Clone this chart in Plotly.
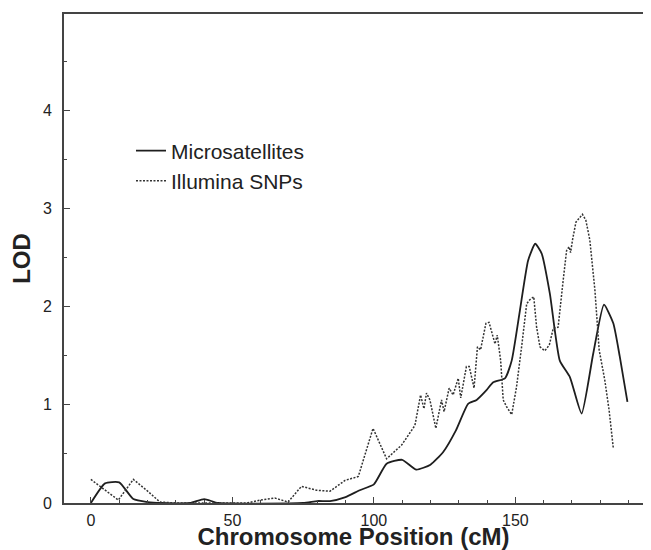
import plotly.graph_objects as go

# ---- data ----
ms_pos = [0, 5, 10, 15, 20, 25, 35, 40, 45, 75, 80, 84.5, 90, 95, 100, 104.5, 110, 115, 120,
          124.5, 129, 133.3, 136.3, 139.8, 142.2, 146.3, 148.7, 151.6, 154.5, 157, 159.3,
          162.2, 165.7, 169.3, 173.4, 177.5, 181.3, 184.6, 186.9, 189.6]
ms_lod = [0, 0.20, 0.21, 0.04, 0.01, 0, 0, 0.04, 0, 0, 0.02, 0.02, 0.06, 0.13, 0.19, 0.40, 0.44,
          0.34, 0.39, 0.52, 0.74, 1.01, 1.05, 1.15, 1.23, 1.27, 1.45, 1.96, 2.47, 2.64, 2.54,
          2.13, 1.45, 1.28, 0.91, 1.52, 2.02, 1.83, 1.49, 1.03]

snp_pos = [0, 9.7, 15, 19.7, 24.4, 30, 55, 60, 65, 69.7, 74.4, 79.7, 84.5, 89.8, 94.5, 99.7,
           104.5, 109.8, 114.5, 116.5, 117.7, 118.6, 119.8, 121.9, 123.9, 124.8, 126.6, 128,
           129.8, 130.7, 132.7, 133.7, 135.4, 136.6, 137.7, 139.6, 140.7, 142.8, 143.6, 144.8,
           145.7, 146.9, 148.7, 150.4, 152.2, 154, 155.1, 156.5, 157.5, 158.7, 160.4, 162,
           163.4, 165.1, 166.9, 168.1, 169, 169.5, 170.2, 171.4, 173.7, 174.9, 176.3, 178.1,
           179.6, 181.6, 183.1, 184.6]
snp_lod = [0.24, 0.03, 0.24, 0.13, 0.01, 0, 0, 0.03, 0.05, 0.01, 0.17, 0.13, 0.12, 0.23, 0.27,
           0.76, 0.45, 0.59, 0.79, 1.10, 0.96, 1.12, 1.05, 0.76, 1.05, 0.93, 1.17, 1.10, 1.27,
           1.07, 1.39, 1.39, 1.17, 1.59, 1.56, 1.83, 1.84, 1.62, 1.71, 1.45, 1.05, 0.98, 0.90,
           1.18, 1.59, 2.03, 2.07, 2.10, 1.79, 1.59, 1.55, 1.61, 1.78, 1.79, 2.27, 2.57, 2.61,
           2.55, 2.68, 2.86, 2.94, 2.88, 2.68, 2.17, 1.56, 1.25, 0.95, 0.56]

x_tickvals = [0, 50, 100, 150]
y_tickvals = [0, 1, 2, 3, 4]

FONT = "Liberation Sans, Arial, sans-serif"
INK = "#222222"
AX = "#444444"

fig = go.Figure()
fig.add_trace(go.Scatter(x=ms_pos, y=ms_lod, mode="lines", name="Microsatellites",
                         line=dict(color="#1e1e1e", width=1.8, shape="spline", smoothing=0.5)))
fig.add_trace(go.Scatter(x=snp_pos, y=snp_lod, mode="lines", name="Illumina SNPs",
                         line=dict(color="#333333", width=1.5, dash="2px,1.5px")))

fig.update_layout(
    width=635, height=542,
    margin=dict(l=56, r=0, t=6, b=47, autoexpand=False),
    paper_bgcolor="white", plot_bgcolor="white",
    font=dict(family=FONT, color=INK),
    showlegend=True,
    legend=dict(x=0.1157, y=0.762, xanchor="left", yanchor="top",
                bgcolor="rgba(0,0,0,0)", font=dict(size=21, family=FONT, color=INK),
                itemwidth=30, tracegroupgap=0),
    xaxis=dict(range=[-9.5, 195.1], tickvals=x_tickvals, ticks="inside", ticklen=6,
               tickwidth=1.3, tickcolor=AX, showline=True, linecolor=AX, linewidth=1.6,
               mirror=True, showgrid=False, zeroline=False, automargin=True,
               ticklabelstandoff=2,
               minor=dict(dtick=10, tick0=0, ticks="inside", ticklen=3, tickcolor=AX,
                          showgrid=False),
               tickfont=dict(size=16, family=FONT, color=INK),
               title=dict(text="Chromosome Position (cM)", standoff=2,
                          font=dict(size=24, family=FONT, color=INK, weight=700))),
    yaxis=dict(range=[0, 4.98], tickvals=y_tickvals, ticks="inside", ticklen=6,
               tickwidth=1.3, tickcolor=AX, showline=True, linecolor=AX, linewidth=1.6,
               mirror=False, showgrid=False, zeroline=False, automargin=False,
               ticklabelstandoff=7,
               minor=dict(dtick=0.5, tick0=0, ticks="inside", ticklen=3, tickcolor=AX,
                          showgrid=False),
               tickfont=dict(size=16, family=FONT, color=INK),
               title=dict(text="LOD",
                          font=dict(size=24, family=FONT, color=INK, weight=700))),
    yaxis2=dict(overlaying="y", side="right", matches="y", showline=False,
                tickvals=y_tickvals, ticks="inside", ticklen=6, tickwidth=1.3, tickcolor=AX,
                showticklabels=False, showgrid=False, zeroline=False, automargin=False,
                minor=dict(dtick=0.5, tick0=0, ticks="inside", ticklen=3, tickcolor=AX,
                           showgrid=False)),
)

fig.write_html("out.html")
